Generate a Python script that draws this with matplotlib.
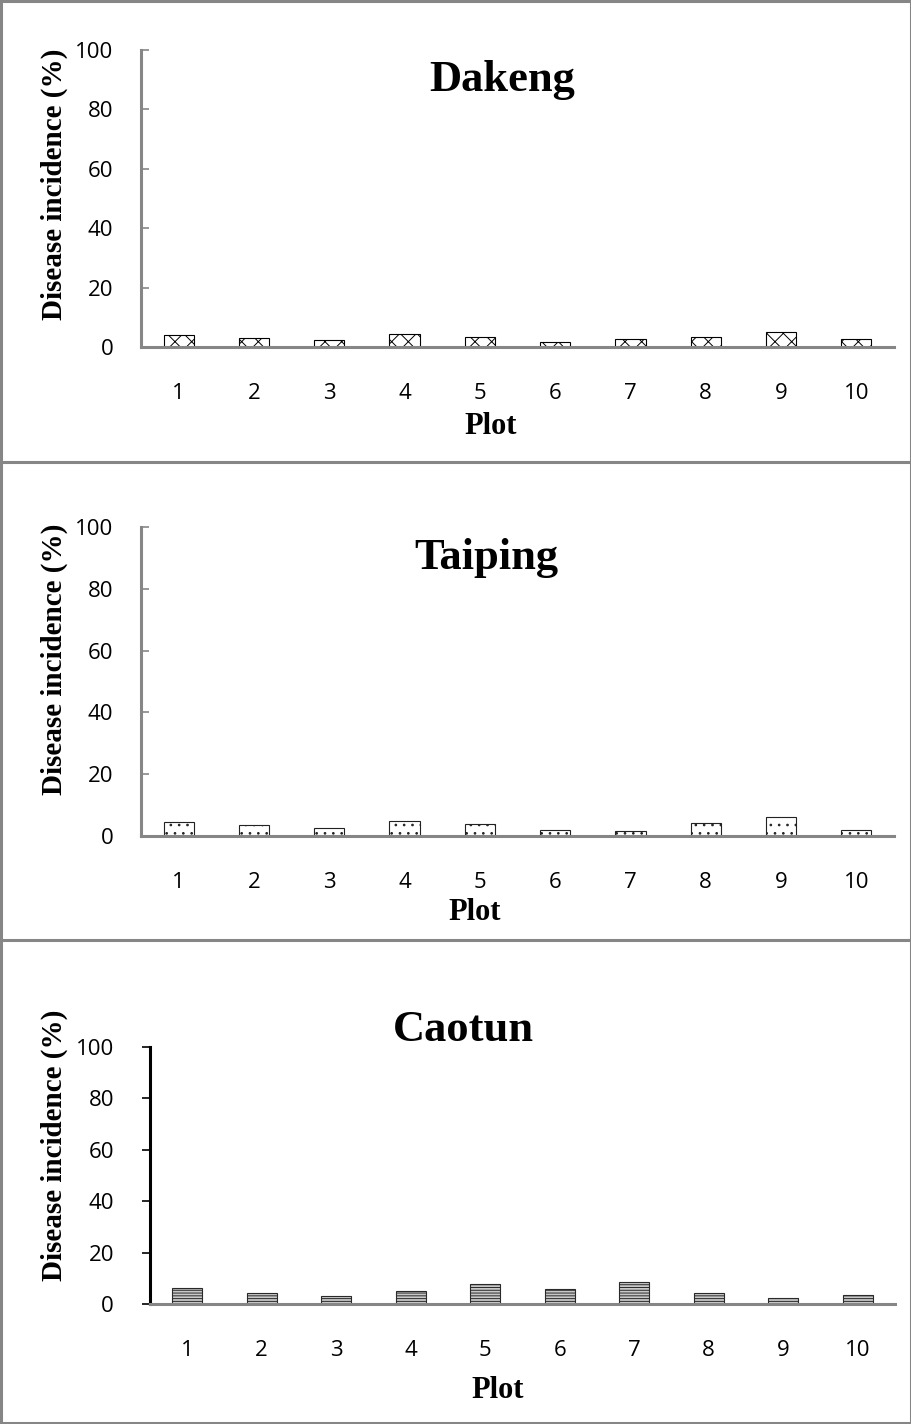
import numpy as np
import matplotlib
matplotlib.use('Agg')
import matplotlib.pyplot as plt
from matplotlib.lines import Line2D

# data (disease incidence, %)
plots = ['1', '2', '3', '4', '5', '6', '7', '8', '9', '10']
dakeng = [4.1, 3.0, 2.3, 4.3, 3.3, 1.7, 2.6, 3.3, 5.1, 2.6]
taiping = [4.4, 3.5, 2.6, 5.0, 3.9, 1.9, 1.6, 4.2, 6.1, 1.9]
caotun = [6.1, 4.1, 3.1, 5.1, 7.7, 5.7, 8.7, 4.1, 2.4, 3.4]
yticks = [0, 20, 40, 60, 80, 100]

W, H = 912, 1424
gray = '#868686'
serif = 'Liberation Serif'
sans = 'Open Sans'

plt.rcParams['hatch.linewidth'] = 0.7

fig = plt.figure(figsize=(W / 100, H / 100), dpi=100)


def px_axes(left, right, top, bottom):
    return fig.add_axes([left / W, 1 - bottom / H, (right - left) / W, (bottom - top) / H])


def panel(ax, values, title, title_xy, ylab_xy, plot_xy, hatch, face, edge, yaxis_color, ytick_dir):
    x = np.arange(len(plots))
    ax.bar(x, values, width=0.4, color=face, edgecolor=edge, hatch=hatch, linewidth=0.8)
    ax.set_xlim(-0.5, len(plots) - 0.5)
    ax.set_ylim(0, 100)
    ax.set_yticks(yticks)
    ax.set_xticks(x)
    ax.set_xticklabels(plots)
    for s in ['top', 'right']:
        ax.spines[s].set_visible(False)
    ax.spines['bottom'].set_color(gray)
    ax.spines['bottom'].set_linewidth(2.2)
    ax.spines['left'].set_color(yaxis_color)
    ax.spines['left'].set_linewidth(2.2)
    ax.tick_params(axis='x', length=0, pad=26, labelsize=16)
    ax.tick_params(axis='y', direction=ytick_dir, length=6, width=1.2, color=yaxis_color,
                   pad=20, labelsize=16)
    for lab in ax.get_xticklabels() + ax.get_yticklabels():
        lab.set_fontfamily(sans)
    fig.text(title_xy[0] / W, 1 - title_xy[1] / H, title, fontsize=32, fontweight='bold',
             family=serif, ha='center', va='center')
    fig.text(ylab_xy[0] / W, 1 - ylab_xy[1] / H, 'Disease incidence (%)', fontsize=21,
             fontweight='bold', family=serif, rotation=90, ha='center', va='center')
    fig.text(plot_xy[0] / W, 1 - plot_xy[1] / H, 'Plot', fontsize=22, fontweight='bold',
             family=serif, ha='center', va='center')


ax1 = px_axes(141, 894, 50, 347)
panel(ax1, dakeng, 'Dakeng', (502, 80), (54, 184), (491, 426), 'xx', 'white', 'black', gray, 'in')

ax2 = px_axes(141, 894, 527, 836)
panel(ax2, taiping, 'Taiping', (486, 558), (54, 659), (475, 912), '..', 'white', '#222222', gray, 'in')

ax3 = px_axes(150, 895, 1047, 1304)
panel(ax3, caotun, 'Caotun', (463, 1030), (54, 1145), (498, 1390), '------', '#c8c8c8', '#2a2a2a', 'black', 'out')

# panel frames
for y in [462, 940]:
    fig.add_artist(Line2D([0, 1], [1 - y / H, 1 - y / H], color=gray, lw=2.2, transform=fig.transFigure))
fig.add_artist(plt.Rectangle((0.001, 0.001), 0.998, 0.998, fill=False, edgecolor=gray, lw=2.2,
                             transform=fig.transFigure))

fig.savefig('out.png', dpi=100)
